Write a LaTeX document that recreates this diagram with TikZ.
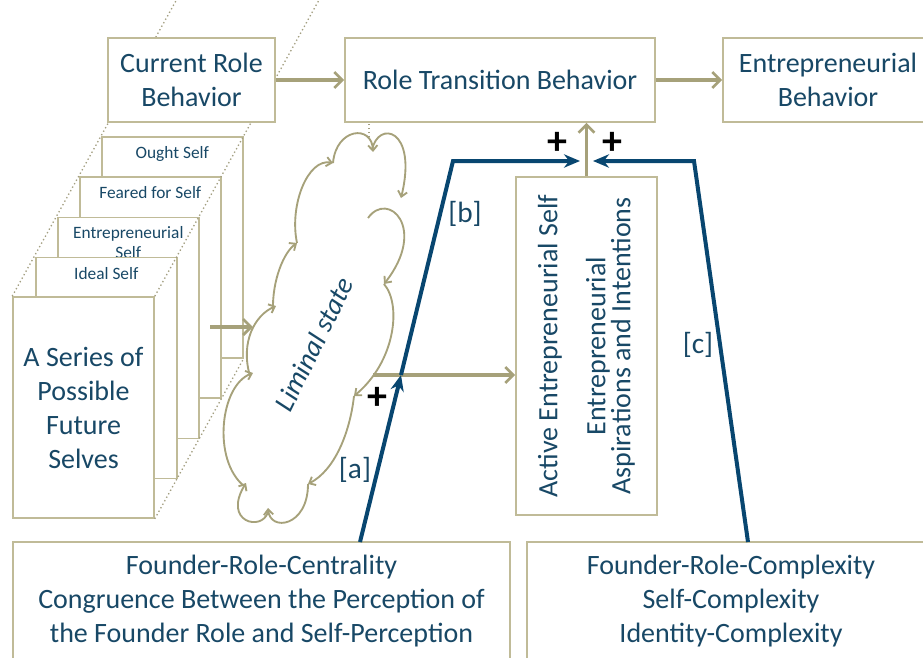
\documentclass[tikz,border=0pt]{standalone}
\usepackage{fontspec}
\setmainfont{Carlito}
\usetikzlibrary{arrows.meta,calc}
\definecolor{tan}{RGB}{192,187,152}
\definecolor{olive}{RGB}{166,161,122}
\definecolor{ink}{RGB}{24,72,102}
\definecolor{navy}{RGB}{8,70,112}
\setlength{\lineskiplimit}{-20pt}
\tikzset{
  box/.style={draw=tan, line width=1.2pt, fill=white, text=ink, align=center, inner sep=0pt,
    font=\fontsize{21}{25.5}\selectfont},
  page/.style={box, anchor=north west, minimum width=105.75pt, minimum height=165.75pt},
  pagetext/.style={text=ink, align=center, inner sep=0pt, font=\fontsize{13}{15}\selectfont},
  flow/.style={draw=olive, line width=2.6pt, -{Straight Barb[length=6pt,width=12pt,line width=2pt]}},
  push/.style={draw=navy, line width=3pt, -{Stealth[length=12pt,width=10pt]}},
  lobe/.style={draw=olive, line width=1.4pt, -{Straight Barb[length=4pt,width=7pt]}},
  guide/.style={draw=tan!85!black, dotted, line width=1pt},
  tag/.style={text=ink, inner sep=0pt, font=\fontsize{22}{22}\selectfont},
  plus/.style={inner sep=0pt, font=\fontsize{30}{30}\selectfont\bfseries}
}

\begin{document}
\begin{tikzpicture}[x=0.75pt,y=-0.75pt]
  \useasboundingbox (0,0) rectangle (923,657);

  % stacked selves, back to front
  \foreach \i/\txt in {0/Ought Self,1/Feared for Self,2/{Entrepreneurial\\Self},3/Ideal Self}
    \node[page, label={[pagetext,anchor=north,yshift=-7.5pt]north:\txt}] (p\i) at ({101-22*\i},{136+40.25*\i}) {};
  \node[box, minimum width=105.75pt, minimum height=165.75pt] (ser) at (83.5,407.5) {A Series of\\Possible\\Future\\Selves};
  \draw[guide] (ser.north west) -- ($(ser.north west)!1.85!(p0.north west)$);
  \draw[guide] (ser.north east) -- ($(ser.north east)!1.85!(p0.north east)$);
  \draw[guide] (ser.south east) -- (p0.south east);

  \node[box, minimum width=125.25pt, minimum height=63pt] (cur) at (191.5,80) {Current Role\\Behavior};
  \node[box, minimum width=232.5pt, minimum height=63pt] (rtb) at (500,80) {Role Transition Behavior};
  \node[box, minimum width=157.5pt, minimum height=63pt] (ent) at (828,80) {Entrepreneurial\\Behavior};
  \draw[flow] (cur) -- (rtb);
  \draw[flow] (rtb) -- (ent);

  \node[box, minimum width=105.75pt, minimum height=253.5pt] (act) at (586.5,346) {};
  \node[rotate=90, text=ink, align=center, inner sep=0pt,
    font=\fontsize{21}{18.75}\selectfont] (acttxt) at (act.center)
    {Active Entrepreneurial Self\\[17.25pt]Entrepreneurial\\Aspirations and Intentions};

  \node[box, minimum width=372.75pt, minimum height=88.5pt] (cen) at (261.5,601)
    {Founder-Role-Centrality\\Congruence Between the Perception of\\the Founder Role and Self-Perception};
  \node[box, minimum width=306pt, minimum height=88.5pt] (cpx) at (731,601)
    {Founder-Role-Complexity\\Self-Complexity\\Identity-Complexity};

  % liminal cloud
  \draw[lobe] (297,243) .. controls (289,205) and (308,158) .. (333,163);
  \draw[lobe] (333,163) .. controls (336,128) and (372,124) .. (373,152);
  \draw[lobe] (372,150) .. controls (378,120) and (418,128) .. (401,198);
  \draw[lobe] (368,218) .. controls (388,190) and (428,228) .. (384,284);
  \draw[lobe] (384,284) .. controls (402,305) and (395,362) .. (354,396);
  \draw[lobe] (354,396) .. controls (350,432) and (335,470) .. (308,484);
  \draw[lobe] (308,484) .. controls (308,527) and (270,532) .. (268,508);
  \draw[lobe] (268,512) .. controls (262,532) and (222,522) .. (246,483);
  \draw[lobe] (244,486) .. controls (212,460) and (220,385) .. (253,373);
  \draw[lobe] (250,376) .. controls (240,342) and (255,315) .. (276,306);
  \draw[lobe] (273,311) .. controls (272,280) and (284,252) .. (297,243);
  \node[tag, rotate=64, font=\fontsize{21}{21}\selectfont\itshape] (lim) at (314,344) {Liminal state};
  \coordinate (ct) at (369,137);
  \draw[guide] (ct) -- (ct |- rtb.south);

  \coordinate (sx) at (210,327);
  \coordinate (ce) at (373,375);
  \coordinate (ja) at (401,375);
  \draw[flow] (sx) -- +(43,0);
  \draw[flow] (ce) -- (ce -| act.west);
  \draw[flow] (act.north) -- (act.north |- rtb.south);

  \coordinate (a0) at (360,542);
  \coordinate (c0) at (748,542);
  \coordinate (bl) at (453,161);
  \coordinate (br) at (694,161);
  \draw[push] (a0) -- (ja);
  \draw[push] (ja) -- (bl) -- (580,161);
  \draw[push] (c0) -- (br) -- (593,161);

  \node[tag] (ta) at (355,470) {[a]};
  \node[tag] (tb) at (465,214) {[b]};
  \node[tag] (tc) at (698,345) {[c]};
  \node[plus] (pa) at (377,398) {+};
  \node[plus] (pb) at (557,143) {+};
  \node[plus] (pc) at (612,143) {+};
\end{tikzpicture}
\end{document}
